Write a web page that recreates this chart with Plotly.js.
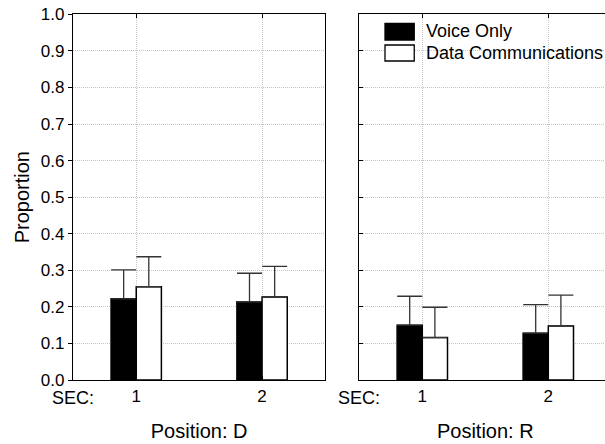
<!DOCTYPE html>
<html>
<head>
<meta charset="utf-8">
<script src="https://cdn.plot.ly/plotly-3.0.1.min.js"></script>
<style>
  html, body { margin: 0; padding: 0; overflow: hidden; background: #fff; width: 605px; height: 444px; }
  #wrap { width: 605px; height: 444px; overflow: hidden; position: relative; }
  #chart { width: 612px; height: 444px; position: absolute; left: 0; top: 0; }
</style>
</head>
<body>
<div id="wrap"><div id="chart"></div></div>
<script>
// SEC levels on the x axis
const secLevels = [1, 2];
const secLabels = ['1', '2'];

// Series names and fills
const seriesNames = ['Voice Only', 'Data Communications'];
const seriesFills = ['#000000', '#ffffff'];

// Position D: mean proportion and upper error
const voiceD = [0.222, 0.214];
const voiceDErr = [0.079, 0.078];
const dataD = [0.255, 0.227];
const dataDErr = [0.082, 0.084];

// Position R: mean proportion and upper error
const voiceR = [0.150, 0.128];
const voiceRErr = [0.079, 0.078];
const dataR = [0.116, 0.148];
const dataRErr = [0.083, 0.084];

const FONT = 'Liberation Sans, Arial, Helvetica, sans-serif';

function barTrace(y, err, idx, xa, ya) {
  return {
    type: 'bar',
    x: secLevels,
    y: y,
    name: seriesNames[idx],
    xaxis: xa,
    yaxis: ya,
    showlegend: false,
    marker: { color: seriesFills[idx], line: { color: '#000', width: 1.5 } },
    error_y: {
      type: 'data', array: err, symmetric: false,
      arrayminus: err.map(() => 0),
      color: '#333', thickness: 1.3, width: 12.5
    },
    hoverinfo: 'y'
  };
}

const traces = [
  barTrace(voiceD, voiceDErr, 0, 'x', 'y'),
  barTrace(dataD, dataDErr, 1, 'x', 'y'),
  barTrace(voiceR, voiceRErr, 0, 'x2', 'y2'),
  barTrace(dataR, dataRErr, 1, 'x2', 'y2')
];

const W = 612, H = 444;
const yDom = [0.1441, 0.9678];
const GRID = '#c6c6c6';

function xAxis(domain, titleText, anchor) {
  return {
    domain: domain, anchor: anchor,
    range: [0.5, 2.5],
    tickvals: secLevels, ticktext: secLabels,
    ticks: 'inside', ticklen: 4, tickcolor: '#000', mirror: 'ticks',
    showline: true, linecolor: '#000', linewidth: 1.4,
    showgrid: true, gridcolor: GRID, griddash: '1px,1px', gridwidth: 1,
    zeroline: false,
    tickfont: { family: FONT, size: 17, color: '#000' },
    title: { text: titleText, font: { family: FONT, size: 20, color: '#000' }, standoff: 19 },
    automargin: false, fixedrange: true
  };
}

function yAxisBase(anchor) {
  return {
    domain: yDom, anchor: anchor,
    range: [0, 1], tick0: 0, dtick: 0.1,
    showline: true, linecolor: '#000', linewidth: 1.4, mirror: true,
    showgrid: true, gridcolor: GRID, griddash: '1px,1px', gridwidth: 1,
    zeroline: false, tickcolor: '#000',
    automargin: false, fixedrange: true
  };
}

const yLeft = Object.assign(yAxisBase('x'), {
  ticks: 'outside', ticklen: 4,
  tickformat: '.1f',
  tickfont: { family: FONT, size: 17, color: '#000' },
  title: { text: 'Proportion', font: { family: FONT, size: 20, color: '#000' }, standoff: 6 }
});

const yRight = Object.assign(yAxisBase('x2'), {
  ticks: 'inside', ticklen: 4, showticklabels: false
});

// extra inner ticks along the right edge of the left panel
const yLeftMirror = {
  overlaying: 'y', anchor: 'x', side: 'right',
  range: [0, 1],
  tickvals: [0.125, 0.25, 0.375, 0.5, 0.625, 0.75, 0.875],
  ticks: 'inside', ticklen: 4, tickcolor: '#000',
  showticklabels: false, showgrid: false, showline: false, zeroline: false,
  automargin: false, fixedrange: true
};

// legend drawn inside the right panel
const legendRows = [
  { y0: 0.9297, y1: 0.9754, ty: 0.953 },
  { y0: 0.8723, y1: 0.916, ty: 0.894 }
];
const shapes = [];
const annotations = [];
legendRows.forEach((r, i) => {
  shapes.push({
    type: 'rect', xref: 'x2 domain', yref: 'y2 domain',
    x0: 0.102, x1: 0.218, y0: r.y0, y1: r.y1,
    fillcolor: seriesFills[i], line: { color: '#000', width: 1.3 }, layer: 'above'
  });
  annotations.push({
    xref: 'x2 domain', yref: 'y2 domain', x: 0.2567, y: r.ty,
    xanchor: 'left', yanchor: 'middle', showarrow: false,
    text: seriesNames[i],
    font: { family: FONT, size: 18, color: '#000' }
  });
});

// "SEC:" captions at the left end of each x axis
[['x domain', 'y domain'], ['x2 domain', 'y2 domain']].forEach(([xr, yr]) => {
  annotations.push({
    xref: xr, yref: yr, x: 0, y: -0.048,
    xanchor: 'center', yanchor: 'middle', showarrow: false,
    text: 'SEC:', font: { family: FONT, size: 18, color: '#000' }
  });
});

const layout = {
  width: W, height: H,
  margin: { l: 0, r: 0, t: 0, b: 0, pad: 0 },
  paper_bgcolor: '#fff', plot_bgcolor: '#fff',
  barmode: 'group', bargap: 0.6, bargroupgap: 0,
  showlegend: false,
  font: { family: FONT, color: '#000' },
  xaxis: xAxis([73.3 / W, 325 / W], 'Position: D', 'y'),
  xaxis2: xAxis([359.3 / W, 611.3 / W], 'Position: R', 'y2'),
  yaxis: yLeft,
  yaxis2: yRight,
  yaxis3: yLeftMirror,
  shapes: shapes,
  annotations: annotations
};

Plotly.newPlot('chart', traces, layout, { staticPlot: true, displayModeBar: false });
</script>
</body>
</html>
